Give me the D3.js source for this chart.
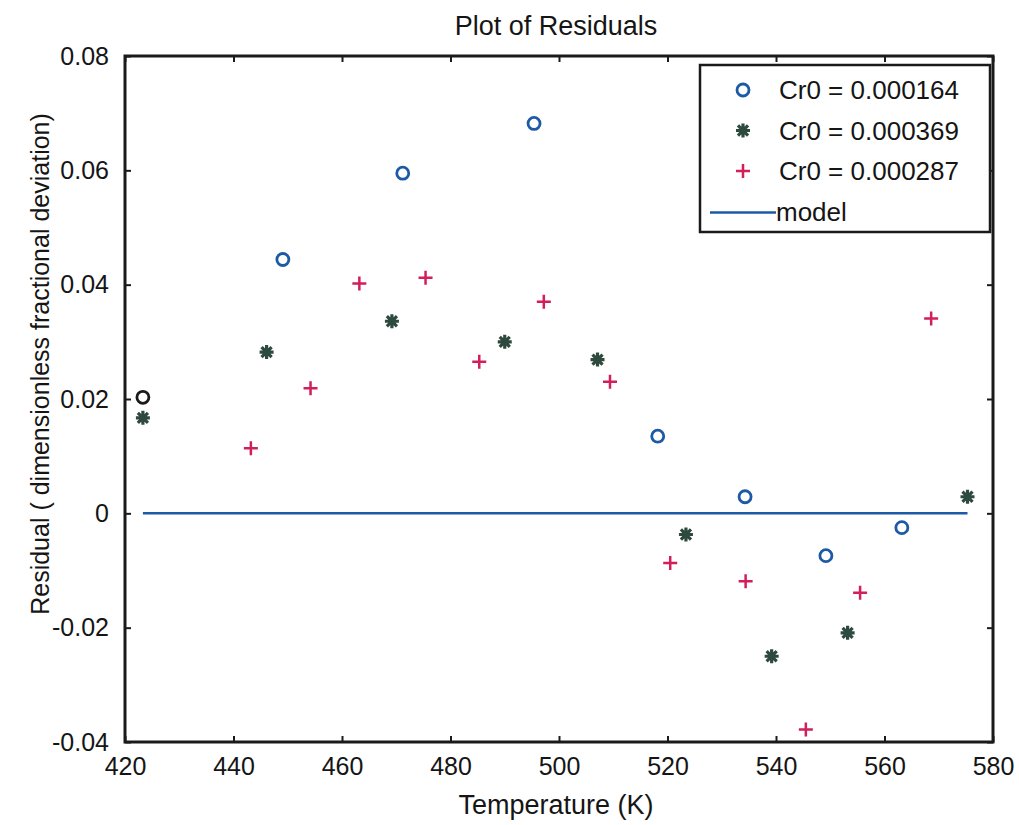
<!DOCTYPE html>
<html>
<head>
<meta charset="utf-8">
<script src="https://cdn.jsdelivr.net/npm/d3@7"></script>
<style>
  body { margin: 0; background: #fff; }
  text { font-family: "Liberation Sans", Arial, sans-serif; fill: #151515; }
</style>
</head>
<body>
<div id="chart"></div>
<script>
// series 1: Cr0 = 0.000164 (open circles)
const circleT = [423.3, 449.1, 471.2, 495.4, 518.2, 534.3, 549.2, 563.2];
const circleR = [0.0203, 0.0444, 0.0595, 0.0682, 0.0135, 0.0029, -0.0074, -0.0025];

// series 2: Cr0 = 0.000369 (stars)
const starT = [423.3, 446.1, 469.2, 490.0, 507.1, 523.4, 539.2, 553.2, 575.3];
const starR = [0.0167, 0.0282, 0.0336, 0.0300, 0.0269, -0.0037, -0.0250, -0.0209, 0.0029];

// series 3: Cr0 = 0.000287 (plus)
const plusT = [443.2, 454.2, 463.2, 475.4, 485.3, 497.2, 509.4, 520.5, 534.4, 545.5, 555.5, 568.6];
const plusR = [0.0114, 0.0219, 0.0402, 0.0412, 0.0265, 0.0370, 0.0230, -0.0087, -0.0119, -0.0378, -0.0139, 0.0341];

// model line
const modelT = [423.3, 575.3];
const modelR = [0, 0];

const xTicks = [420, 440, 460, 480, 500, 520, 540, 560, 580];
const yTicks = [-0.04, -0.02, 0, 0.02, 0.04, 0.06, 0.08];
const legendLabels = ["Cr0 = 0.000164", "Cr0 = 0.000369", "Cr0 = 0.000287", "model"];

const W = 1019, H = 825;
const plotLeft = 125, plotRight = 993, plotTop = 56, plotBottom = 742;
const blue = "#1d5aa6", green = "#2e4a3f", red = "#d21f5a";

const svg = d3.select("#chart").append("svg")
  .attr("width", W)
  .attr("height", H);

const x = d3.scaleLinear().domain([420, 580]).range([plotLeft, plotRight]);
const y = d3.scaleLinear().domain([-0.04, 0.08]).range([plotBottom, plotTop]);

// axes (ticks point inward, box all round)
const tickLen = 6;
svg.append("g")
  .attr("transform", `translate(0,${plotBottom})`)
  .call(d3.axisBottom(x).tickValues(xTicks).tickSize(-tickLen).tickPadding(12).tickFormat(d3.format("d")))
  .call(g => g.select(".domain").remove())
  .call(g => g.selectAll("text").attr("font-size", "25px").attr("dy", "0.85em"));

svg.append("g")
  .attr("transform", `translate(0,${plotTop})`)
  .call(d3.axisTop(x).tickValues(xTicks).tickSize(-tickLen).tickFormat(""))
  .call(g => g.select(".domain").remove());

// plain hyphen for negatives, like the original
const yFmt = d => d === 0 ? "0" : d.toFixed(2);
svg.append("g")
  .attr("transform", `translate(${plotLeft},0)`)
  .call(d3.axisLeft(y).tickValues(yTicks).tickSize(-tickLen).tickPadding(16).tickFormat(yFmt))
  .call(g => g.select(".domain").remove())
  .call(g => g.selectAll("text").attr("font-size", "25px"));

svg.append("g")
  .attr("transform", `translate(${plotRight},0)`)
  .call(d3.axisRight(y).tickValues(yTicks).tickSize(-tickLen).tickFormat(""))
  .call(g => g.select(".domain").remove());

svg.selectAll(".tick line").attr("stroke", "#1a1a1a").attr("stroke-width", 2);

svg.append("rect")
  .attr("x", plotLeft)
  .attr("y", plotTop)
  .attr("width", plotRight - plotLeft)
  .attr("height", plotBottom - plotTop)
  .attr("fill", "none")
  .attr("stroke", "#1a1a1a")
  .attr("stroke-width", 3);

// model line
const line = d3.line().x(d => x(d[0])).y(d => y(d[1]));
svg.append("path")
  .datum(d3.zip(modelT, modelR))
  .attr("d", line)
  .attr("fill", "none")
  .attr("stroke", blue)
  .attr("stroke-width", 2.5);

// marker drawing helpers
function drawCircle(g, cx, cy, color) {
  g.append("circle")
    .attr("cx", cx).attr("cy", cy).attr("r", 6)
    .attr("fill", "none")
    .attr("stroke", color)
    .attr("stroke-width", 2.8);
}
function drawStar(g, cx, cy, color) {
  const r = 7, d = r * 0.72;
  g.append("path")
    .attr("d", `M${cx - r},${cy}H${cx + r}M${cx},${cy - r}V${cy + r}` +
      `M${cx - d},${cy - d}L${cx + d},${cy + d}M${cx - d},${cy + d}L${cx + d},${cy - d}`)
    .attr("stroke", color)
    .attr("stroke-width", 3.2);
}
function drawPlus(g, cx, cy, color) {
  const r = 7;
  g.append("path")
    .attr("d", `M${cx - r},${cy}H${cx + r}M${cx},${cy - r}V${cy + r}`)
    .attr("stroke", color)
    .attr("stroke-width", 2.5);
}

const marks = svg.append("g");
circleT.forEach((t, i) => drawCircle(marks, x(t), y(circleR[i]), i === 0 ? "#1a1a1a" : blue));
starT.forEach((t, i) => drawStar(marks, x(t), y(starR[i]), green));
plusT.forEach((t, i) => drawPlus(marks, x(t), y(plusR[i]), red));

// legend
const lg = svg.append("g");
lg.append("rect")
  .attr("x", 700).attr("y", 65)
  .attr("width", 290).attr("height", 167)
  .attr("fill", "#fff")
  .attr("stroke", "#1a1a1a")
  .attr("stroke-width", 2.5);

legendLabels.forEach((label, i) => {
  const ly = 90 + i * 40.5;
  if (i === 0) drawCircle(lg, 743, ly, blue);
  if (i === 1) drawStar(lg, 743, ly, green);
  if (i === 2) drawPlus(lg, 743, ly, red);
  if (i === 3) {
    lg.append("line")
      .attr("x1", 710).attr("x2", 776)
      .attr("y1", ly + 1).attr("y2", ly + 1)
      .attr("stroke", blue)
      .attr("stroke-width", 2.5);
  }
  lg.append("text")
    .attr("x", i === 3 ? 776 : 779)
    .attr("y", ly)
    .attr("dy", "0.35em")
    .attr("font-size", "26px")
    .text(label);
});

// titles
svg.append("text")
  .attr("x", 556)
  .attr("y", 35)
  .attr("text-anchor", "middle")
  .attr("font-size", "27px")
  .text("Plot of Residuals");

svg.append("text")
  .attr("x", 556)
  .attr("y", 814)
  .attr("text-anchor", "middle")
  .attr("font-size", "27px")
  .text("Temperature (K)");

svg.append("text")
  .attr("transform", "translate(49,364) rotate(-90)")
  .attr("text-anchor", "middle")
  .attr("font-size", "25px")
  .text("Residual ( dimensionless fractional deviation)");
</script>
</body>
</html>
